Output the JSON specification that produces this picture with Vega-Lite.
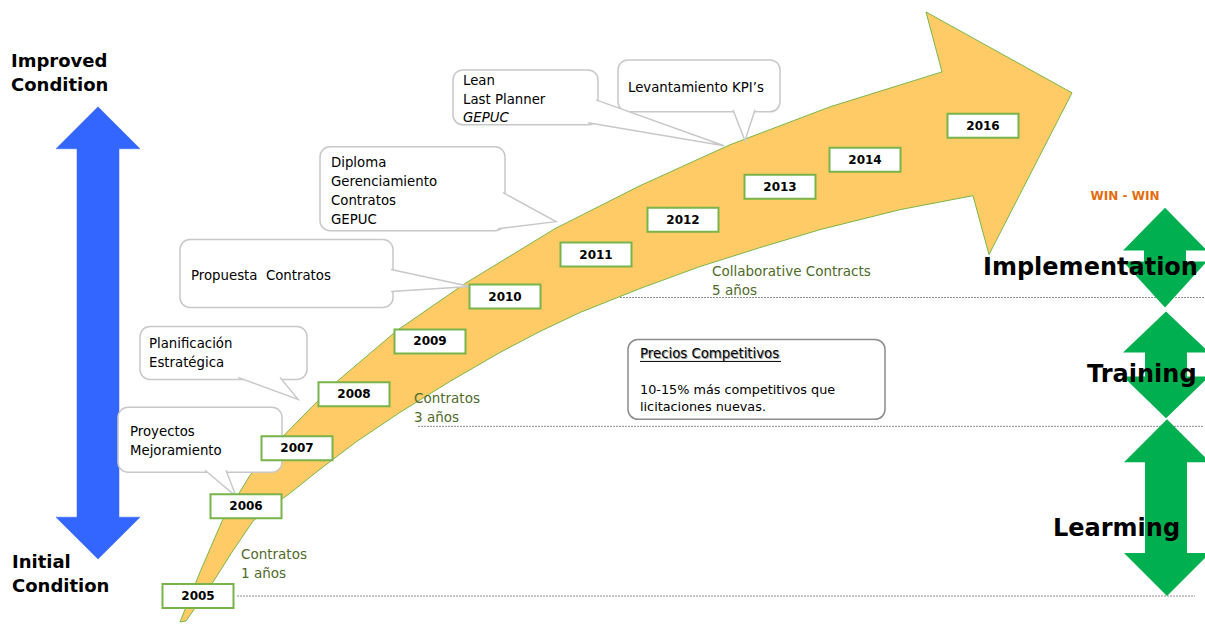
{
  "$schema": "https://vega.github.io/schema/vega-lite/v6.json",
  "width": 1205,
  "height": 624,
  "autosize": {"type": "fit", "contains": "padding"},
  "padding": 0,
  "background": "white",
  "config": {"view": {"stroke": null}, "text": {"font": "DejaVu Sans"}},
  "datasets": {
    "rules": [
      {"x": 620, "x2": 1204, "y": 298},
      {"x": 418, "x2": 1204, "y": 427},
      {"x": 237, "x2": 1195, "y": 597}
    ],
    "blue": [
      {"i": 0, "x": 98, "y": 107}, {"i": 1, "x": 140, "y": 149}, {"i": 2, "x": 119, "y": 149},
      {"i": 3, "x": 119, "y": 518}, {"i": 4, "x": 140, "y": 518}, {"i": 5, "x": 98, "y": 560},
      {"i": 6, "x": 56, "y": 518}, {"i": 7, "x": 77, "y": 518}, {"i": 8, "x": 77, "y": 149},
      {"i": 9, "x": 56, "y": 149}, {"i": 10, "x": 98, "y": 107}
    ],
    "green": [
      {"g": "A", "i": 0, "x": 1165, "y": 208}, {"g": "A", "i": 1, "x": 1205, "y": 249}, {"g": "A", "i": 2, "x": 1205, "y": 251},
      {"g": "A", "i": 3, "x": 1186, "y": 251}, {"g": "A", "i": 4, "x": 1186, "y": 262}, {"g": "A", "i": 5, "x": 1205, "y": 262},
      {"g": "A", "i": 6, "x": 1205, "y": 264}, {"g": "A", "i": 7, "x": 1165, "y": 308}, {"g": "A", "i": 8, "x": 1123, "y": 262},
      {"g": "A", "i": 9, "x": 1144, "y": 262}, {"g": "A", "i": 10, "x": 1144, "y": 251}, {"g": "A", "i": 11, "x": 1123, "y": 251},
      {"g": "A", "i": 12, "x": 1165, "y": 208},
      {"g": "B", "i": 0, "x": 1166, "y": 312}, {"g": "B", "i": 1, "x": 1205, "y": 349}, {"g": "B", "i": 2, "x": 1205, "y": 353},
      {"g": "B", "i": 3, "x": 1187, "y": 353}, {"g": "B", "i": 4, "x": 1187, "y": 377}, {"g": "B", "i": 5, "x": 1205, "y": 377},
      {"g": "B", "i": 6, "x": 1205, "y": 381}, {"g": "B", "i": 7, "x": 1166, "y": 419}, {"g": "B", "i": 8, "x": 1123, "y": 377},
      {"g": "B", "i": 9, "x": 1145, "y": 377}, {"g": "B", "i": 10, "x": 1145, "y": 353}, {"g": "B", "i": 11, "x": 1123, "y": 353},
      {"g": "B", "i": 12, "x": 1166, "y": 312},
      {"g": "C", "i": 0, "x": 1167, "y": 420}, {"g": "C", "i": 1, "x": 1205, "y": 458}, {"g": "C", "i": 2, "x": 1205, "y": 463},
      {"g": "C", "i": 3, "x": 1187, "y": 463}, {"g": "C", "i": 4, "x": 1187, "y": 554}, {"g": "C", "i": 5, "x": 1205, "y": 554},
      {"g": "C", "i": 6, "x": 1205, "y": 559}, {"g": "C", "i": 7, "x": 1167, "y": 597}, {"g": "C", "i": 8, "x": 1124, "y": 554},
      {"g": "C", "i": 9, "x": 1145, "y": 554}, {"g": "C", "i": 10, "x": 1145, "y": 463}, {"g": "C", "i": 11, "x": 1124, "y": 463},
      {"g": "C", "i": 12, "x": 1167, "y": 420}
    ],
    "arrow": [
      {"i": 0, "x": 180, "y": 623}, {"i": 1, "x": 200, "y": 573}, {"i": 2, "x": 222, "y": 522},
      {"i": 3, "x": 250, "y": 476}, {"i": 4, "x": 283, "y": 437}, {"i": 5, "x": 337, "y": 382},
      {"i": 6, "x": 397, "y": 331}, {"i": 7, "x": 465, "y": 284}, {"i": 8, "x": 555, "y": 229},
      {"i": 9, "x": 640, "y": 186}, {"i": 10, "x": 730, "y": 145}, {"i": 11, "x": 830, "y": 107},
      {"i": 12, "x": 942, "y": 72}, {"i": 13, "x": 926, "y": 12}, {"i": 14, "x": 1072, "y": 93},
      {"i": 15, "x": 989, "y": 255}, {"i": 16, "x": 973, "y": 196}, {"i": 17, "x": 900, "y": 210},
      {"i": 18, "x": 820, "y": 230}, {"i": 19, "x": 760, "y": 248}, {"i": 20, "x": 700, "y": 267},
      {"i": 21, "x": 640, "y": 289}, {"i": 22, "x": 580, "y": 313}, {"i": 23, "x": 540, "y": 332},
      {"i": 24, "x": 500, "y": 353}, {"i": 25, "x": 450, "y": 382}, {"i": 26, "x": 400, "y": 413},
      {"i": 27, "x": 357, "y": 442}, {"i": 28, "x": 320, "y": 470}, {"i": 29, "x": 290, "y": 494},
      {"i": 30, "x": 262, "y": 514}, {"i": 31, "x": 253, "y": 522}, {"i": 32, "x": 232, "y": 553},
      {"i": 33, "x": 213, "y": 583}, {"i": 34, "x": 186, "y": 622}, {"i": 35, "x": 180, "y": 623}
    ],
    "callouts": [
      {"x": 453, "x2": 598, "y": 70, "y2": 125},
      {"x": 618, "x2": 780, "y": 60, "y2": 112},
      {"x": 320, "x2": 505, "y": 147, "y2": 231},
      {"x": 180, "x2": 393, "y": 240, "y2": 308},
      {"x": 140, "x2": 307, "y": 327, "y2": 380},
      {"x": 118, "x2": 282, "y": 408, "y2": 473}
    ],
    "pointers": [
      {"g": "lean", "i": 0, "x": 596, "y": 100}, {"g": "lean", "i": 1, "x": 724, "y": 146}, {"g": "lean", "i": 2, "x": 588, "y": 123},
      {"g": "kpi", "i": 0, "x": 733, "y": 110}, {"g": "kpi", "i": 1, "x": 745, "y": 141}, {"g": "kpi", "i": 2, "x": 755, "y": 110},
      {"g": "dip", "i": 0, "x": 503, "y": 193}, {"g": "dip", "i": 1, "x": 556, "y": 222}, {"g": "dip", "i": 2, "x": 498, "y": 229},
      {"g": "pro", "i": 0, "x": 391, "y": 270}, {"g": "pro", "i": 1, "x": 470, "y": 287}, {"g": "pro", "i": 2, "x": 391, "y": 292},
      {"g": "pla", "i": 0, "x": 238, "y": 378}, {"g": "pla", "i": 1, "x": 298, "y": 400}, {"g": "pla", "i": 2, "x": 280, "y": 378},
      {"g": "pry", "i": 0, "x": 205, "y": 471}, {"g": "pry", "i": 1, "x": 236, "y": 497}, {"g": "pry", "i": 2, "x": 226, "y": 471}
    ],
    "precios": [{"x": 628, "x2": 885, "y": 340, "y2": 420}],
    "years": [
      {"t": "2005", "x": 198, "y": 597}, {"t": "2006", "x": 246, "y": 507}, {"t": "2007", "x": 297, "y": 449},
      {"t": "2008", "x": 354, "y": 395}, {"t": "2009", "x": 430, "y": 342}, {"t": "2010", "x": 505, "y": 297},
      {"t": "2011", "x": 596, "y": 255}, {"t": "2012", "x": 683, "y": 220}, {"t": "2013", "x": 780, "y": 187},
      {"t": "2014", "x": 865, "y": 160}, {"t": "2016", "x": 983, "y": 126}
    ],
    "calloutText": [
      {"x": 463, "y": 85, "t": "Lean\nLast Planner"},
      {"x": 628, "y": 92, "t": "Levantamiento KPI’s"},
      {"x": 331, "y": 167, "t": "Diploma\nGerenciamiento\nContratos\nGEPUC"},
      {"x": 191, "y": 280, "t": "Propuesta\u00a0 Contratos"},
      {"x": 149, "y": 349, "t": "Planificación\nEstratégica"},
      {"x": 130, "y": 437, "t": "Proyectos\nMejoramiento"}
    ],
    "italicText": [{"x": 463, "y": 122, "t": "GEPUC"}],
    "greenText": [
      {"x": 241, "y": 560, "t": "Contratos\n1 años"},
      {"x": 414, "y": 404, "t": "Contratos\n3 años"},
      {"x": 712, "y": 276, "t": "Collaborative Contracts\n5 años"}
    ],
    "preciosTitle": [{"x": 640, "x2": 781, "y": 359, "t": "Precios Competitivos"}],
    "preciosBody": [{"x": 640, "y": 395, "t": "10-15% más competitivos que\nlicitaciones nuevas."}],
    "leftLabels": [
      {"x": 11, "y": 67, "t": "Improved\nCondition"},
      {"x": 12, "y": 569, "t": "Initial\nCondition"}
    ],
    "rightLabels": [
      {"x": 983, "y": 275, "t": "Implementation"},
      {"x": 1087, "y": 383, "t": "Training"},
      {"x": 1053, "y": 537, "t": "Learming"}
    ],
    "win": [{"x": 1125, "y": 196, "t": "WIN - WIN"}]
  },
  "encoding": {
    "x": {"field": "x", "type": "quantitative", "scale": {"domain": [0, 1205], "nice": false, "zero": false}, "axis": null},
    "y": {"field": "y", "type": "quantitative", "scale": {"domain": [0, 624], "nice": false, "zero": false, "reverse": true}, "axis": null}
  },
  "layer": [
    {
      "data": {"name": "rules"},
      "mark": {"type": "rule", "stroke": "#8C8C8C", "strokeWidth": 1, "strokeDash": [2, 1]},
      "encoding": {"x2": {"field": "x2"}}
    },
    {
      "data": {"name": "blue"},
      "mark": {"type": "line", "fill": "#3366FF", "stroke": "#3366FF", "strokeWidth": 0.5, "interpolate": "linear"},
      "encoding": {"order": {"field": "i", "type": "quantitative"}}
    },
    {
      "data": {"name": "green"},
      "mark": {"type": "line", "fill": "#00B050", "strokeWidth": 0, "interpolate": "linear"},
      "encoding": {"order": {"field": "i", "type": "quantitative"}, "detail": {"field": "g", "type": "nominal"}}
    },
    {
      "data": {"name": "arrow"},
      "mark": {"type": "line", "fill": "#FECB66", "stroke": "#7AB648", "strokeWidth": 1, "interpolate": "linear", "strokeJoin": "miter"},
      "encoding": {"order": {"field": "i", "type": "quantitative"}}
    },
    {
      "data": {"name": "callouts"},
      "mark": {"type": "rect", "fill": "white", "stroke": "#C8C8C8", "strokeWidth": 1.5, "cornerRadius": 10},
      "encoding": {"x2": {"field": "x2"}, "y2": {"field": "y2"}}
    },
    {
      "data": {"name": "pointers"},
      "mark": {"type": "line", "fill": "white", "stroke": "#C8C8C8", "strokeWidth": 1.5, "interpolate": "linear", "strokeJoin": "miter"},
      "encoding": {"order": {"field": "i", "type": "quantitative"}, "detail": {"field": "g", "type": "nominal"}}
    },
    {
      "data": {"name": "precios"},
      "mark": {"type": "rect", "fill": "white", "stroke": "#8C8C8C", "strokeWidth": 1.5, "cornerRadius": 10},
      "encoding": {"x2": {"field": "x2"}, "y2": {"field": "y2"}}
    },
    {
      "data": {"name": "years"},
      "mark": {"type": "rect", "fill": "white", "stroke": "#78B44A", "strokeWidth": 2, "width": 71, "height": 24}
    },
    {
      "data": {"name": "years"},
      "mark": {"type": "text", "fontWeight": "bold", "fontSize": 12, "align": "center", "baseline": "middle", "color": "black"},
      "encoding": {"text": {"field": "t"}}
    },
    {
      "data": {"name": "calloutText"},
      "mark": {"type": "text", "fontSize": 13.3, "align": "left", "baseline": "alphabetic", "lineBreak": "\n", "lineHeight": 19, "color": "black"},
      "encoding": {"text": {"field": "t"}}
    },
    {
      "data": {"name": "italicText"},
      "mark": {"type": "text", "fontSize": 13.3, "fontStyle": "italic", "align": "left", "baseline": "alphabetic", "color": "black"},
      "encoding": {"text": {"field": "t"}}
    },
    {
      "data": {"name": "greenText"},
      "mark": {"type": "text", "fontSize": 13.5, "align": "left", "baseline": "alphabetic", "lineBreak": "\n", "lineHeight": 19, "color": "#4F6A2A"},
      "encoding": {"text": {"field": "t"}}
    },
    {
      "data": {"name": "preciosTitle"},
      "mark": {"type": "text", "fontSize": 13.3, "align": "left", "baseline": "alphabetic", "color": "#A0A0A0", "dx": 1, "dy": 1},
      "encoding": {"text": {"field": "t"}}
    },
    {
      "data": {"name": "preciosTitle"},
      "mark": {"type": "text", "fontSize": 13.3, "align": "left", "baseline": "alphabetic", "color": "black"},
      "encoding": {"text": {"field": "t"}}
    },
    {
      "data": {"name": "preciosTitle"},
      "mark": {"type": "rule", "stroke": "black", "strokeWidth": 1, "yOffset": 3},
      "encoding": {"x2": {"field": "x2"}}
    },
    {
      "data": {"name": "preciosBody"},
      "mark": {"type": "text", "fontSize": 12.8, "align": "left", "baseline": "alphabetic", "lineBreak": "\n", "lineHeight": 17, "color": "black"},
      "encoding": {"text": {"field": "t"}}
    },
    {
      "data": {"name": "leftLabels"},
      "mark": {"type": "text", "fontSize": 18, "fontWeight": "bold", "align": "left", "baseline": "alphabetic", "lineBreak": "\n", "lineHeight": 24, "color": "black"},
      "encoding": {"text": {"field": "t"}}
    },
    {
      "data": {"name": "rightLabels"},
      "mark": {"type": "text", "fontSize": 24, "fontWeight": "bold", "align": "left", "baseline": "alphabetic", "color": "black"},
      "encoding": {"text": {"field": "t"}}
    },
    {
      "data": {"name": "win"},
      "mark": {"type": "text", "fontSize": 12, "fontWeight": "bold", "align": "center", "baseline": "middle", "color": "#E46C0A"},
      "encoding": {"text": {"field": "t"}}
    }
  ]
}
